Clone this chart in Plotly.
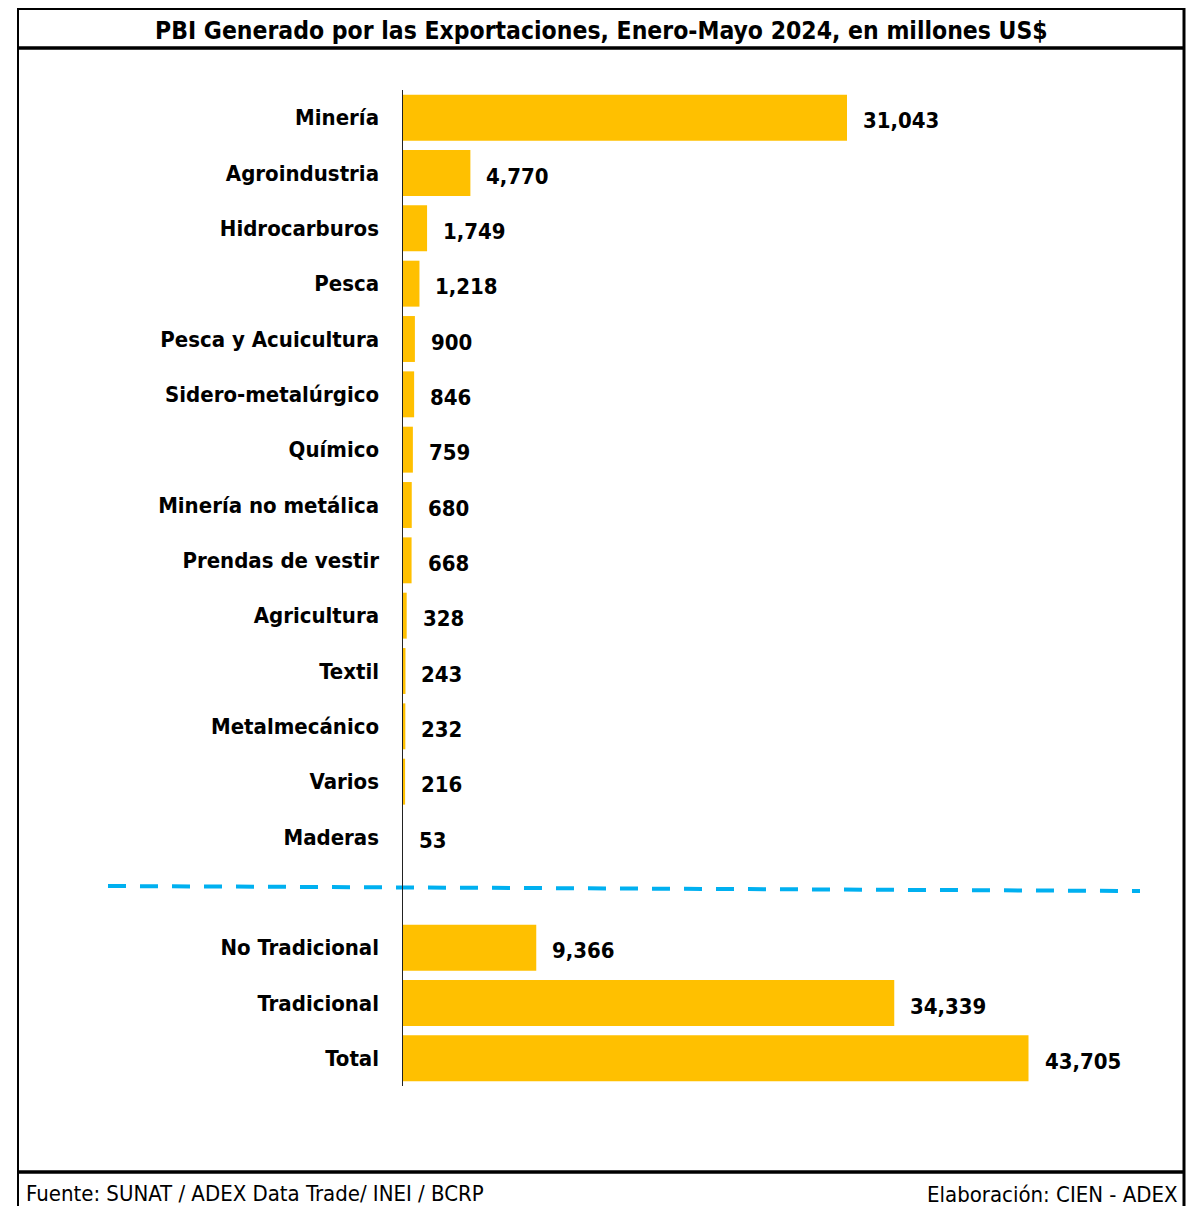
import plotly.graph_objects as go

categories = ["Minería", "Agroindustria", "Hidrocarburos", "Pesca", "Pesca y Acuicultura",
              "Sidero-metalúrgico", "Químico", "Minería no metálica", "Prendas de vestir",
              "Agricultura", "Textil", "Metalmecánico", "Varios", "Maderas"]
values = [31043, 4770, 1749, 1218, 900, 846, 759, 680, 668, 328, 243, 232, 216, 53]
summary_categories = ["No Tradicional", "Tradicional", "Total"]
summary_values = [9366, 34339, 43705]

title = "PBI Generado por las Exportaciones, Enero-Mayo 2024, en millones US$"
source = "Fuente: SUNAT / ADEX Data Trade/ INEI / BCRP"
credit = "Elaboración: CIEN - ADEX"

OFF = 8  # browser body margin
W, H = 1197 - OFF, 1206 - OFF
L, R, T, B = 402 - OFF, 1150 - OFF, 90 - OFF, 1086 - OFF
PX_PER_UNIT = (847 - 402) / 31043.0
xmax = (R - L) / PX_PER_UNIT

all_cats = categories + [""] + summary_categories
all_vals = values + [None] + summary_values
ypos = list(range(len(all_cats)))

FONT = "Liberation Sans Narrow, DejaVu Sans Condensed, Arial Narrow, sans-serif"

fig = go.Figure()
fig.add_trace(go.Bar(
    x=[v if v is not None else 0 for v in all_vals], y=ypos, orientation="h",
    marker=dict(color="#FFC000", line=dict(width=0)),
    hoverinfo="skip", width=0.83,
))

def px(x):
    return (x - OFF - L) / (R - L)

def py(y):
    return (B - (y - OFF)) / (B - T)

shapes = []
# borders
shapes.append(dict(type="line", xref="paper", yref="paper", x0=px(18), x1=px(18), y0=py(8), y1=py(1210), line=dict(color="black", width=2)))
shapes.append(dict(type="line", xref="paper", yref="paper", x0=px(1184), x1=px(1184), y0=py(8), y1=py(1210), line=dict(color="black", width=3)))
shapes.append(dict(type="line", xref="paper", yref="paper", x0=px(18), x1=px(1184), y0=py(9), y1=py(9), line=dict(color="black", width=2)))
shapes.append(dict(type="line", xref="paper", yref="paper", x0=px(18), x1=px(1184), y0=py(48), y1=py(48), line=dict(color="black", width=3.5)))
shapes.append(dict(type="line", xref="paper", yref="paper", x0=px(18), x1=px(1184), y0=py(1172), y1=py(1172), line=dict(color="black", width=3.5)))
# dashed separator
shapes.append(dict(type="line", xref="paper", yref="paper", x0=px(108), x1=px(1140), y0=py(886), y1=py(891), line=dict(color="#00B0F0", width=4, dash="18px,14px")))

annotations = []
for i, v in enumerate(all_vals):
    if v is None:
        continue
    annotations.append(dict(x=v, y=i, xref="x", yref="y", text=f"<b>{v:,}</b>", showarrow=False,
                            xanchor="left", yanchor="middle", xshift=14, yshift=-3,
                            font=dict(family=FONT, size=22, color="black")))
annotations.append(dict(x=0.5 * (px(18) + px(1184)), y=py(30.5), xref="paper", yref="paper",
                        text=f"<b>{title}</b>", showarrow=False, xanchor="center", yanchor="middle",
                        font=dict(family=FONT, size=24.5, color="black")))
annotations.append(dict(x=px(24), y=py(1193), xref="paper", yref="paper", text=source, showarrow=False,
                        xanchor="left", yanchor="middle", font=dict(family=FONT, size=22, color="black")))
annotations.append(dict(x=px(1180), y=py(1194), xref="paper", yref="paper", text=credit, showarrow=False,
                        xanchor="right", yanchor="middle", font=dict(family=FONT, size=22, color="black")))

fig.update_layout(
    width=W, height=H,
    margin=dict(l=L, r=W - R, t=T, b=H - B, pad=0),
    paper_bgcolor="white", plot_bgcolor="white",
    showlegend=False,
    shapes=shapes, annotations=annotations,
    xaxis=dict(range=[0, xmax], visible=False, fixedrange=True),
    yaxis=dict(range=[len(all_cats) - 0.5, -0.5], tickmode="array", tickvals=ypos,
               ticktext=[f"<b>{c}</b>" if c else "" for c in all_cats],
               ticks="", showgrid=False, zeroline=False,
               showline=False, ticklabelstandoff=22,
               tickfont=dict(family=FONT, size=22, color="black"), fixedrange=True),
)
# vertical axis line at x=0
fig.add_shape(type="line", xref="x", yref="paper", x0=0, x1=0, y0=0, y1=1, line=dict(color="#222222", width=2))

fig.write_html("out.html")
